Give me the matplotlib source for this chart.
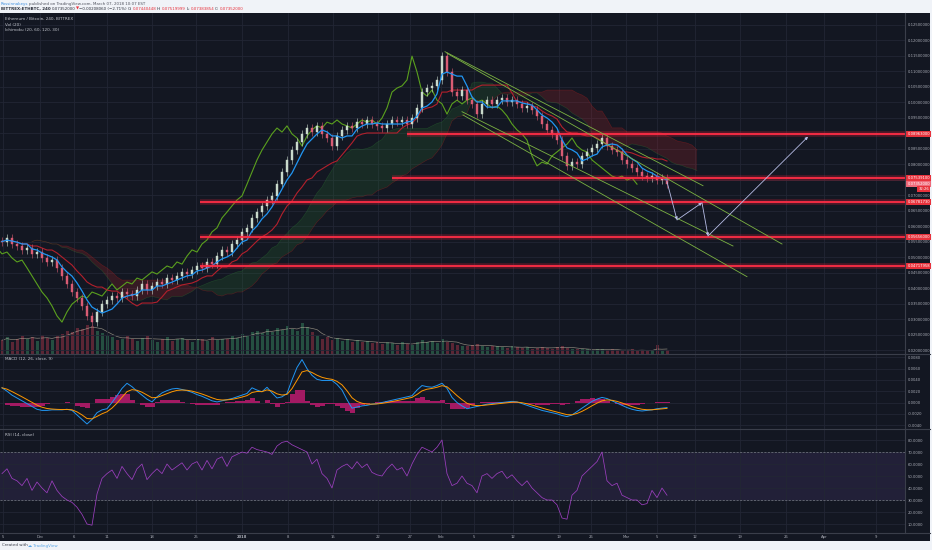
import numpy as np
import pandas as pd
import matplotlib
matplotlib.use("Agg")
import matplotlib.pyplot as plt
from matplotlib.patches import Rectangle
from matplotlib.lines import Line2D
from matplotlib.transforms import blended_transform_factory

# ---------------- data ----------------
OPEN_FIRST = 0.0552
CLOSE = [
    0.0548, 0.0561, 0.0542, 0.0535, 0.0523, 0.0529, 0.0510, 0.0516, 0.0497, 0.0484,
    0.0490, 0.0465, 0.0439, 0.0413, 0.0387, 0.0368, 0.0342, 0.0310, 0.0290, 0.0323,
    0.0348, 0.0361, 0.0374, 0.0368, 0.0387, 0.0381, 0.0374, 0.0394, 0.0413, 0.0394,
    0.0406, 0.0419, 0.0413, 0.0432, 0.0426, 0.0439, 0.0452, 0.0445, 0.0458, 0.0471,
    0.0465, 0.0484, 0.0477, 0.0503, 0.0523, 0.0516, 0.0542, 0.0555, 0.0581, 0.0594,
    0.0626, 0.0645, 0.0665, 0.0684, 0.0697, 0.0735, 0.0774, 0.0813, 0.0845, 0.0871,
    0.0897, 0.0916, 0.0903, 0.0923, 0.0897, 0.0884, 0.0858, 0.0890, 0.0910, 0.0923,
    0.0916, 0.0935, 0.0929, 0.0942, 0.0929, 0.0923, 0.0916, 0.0929, 0.0942, 0.0935,
    0.0942, 0.0929, 0.0948, 0.0981, 0.1032, 0.1045, 0.1052, 0.1071, 0.1148, 0.1097,
    0.1032, 0.1019, 0.1039, 0.1006, 0.0994, 0.0961, 0.0994, 0.1006, 0.0994, 0.1006,
    0.1013, 0.1000, 0.1006, 0.0994, 0.0981, 0.0987, 0.0974, 0.0955, 0.0929, 0.0910,
    0.0897, 0.0877, 0.0826, 0.0794, 0.0806, 0.0800, 0.0826, 0.0839, 0.0852, 0.0864,
    0.0884, 0.0858, 0.0845, 0.0839, 0.0813, 0.0800, 0.0787, 0.0774, 0.0761, 0.0755,
    0.0761, 0.0748, 0.0755, 0.0735]

VOLUME = [
    18, 22, 16, 20, 24, 19, 22, 17, 25, 21, 18, 23,
    26, 30, 28, 34, 32, 38, 36, 30, 27, 24,
    22, 18, 20, 24, 19, 17, 21, 23, 18, 16, 20, 22, 17, 19, 21, 18, 16, 20, 19, 17,
    22, 18, 20, 19, 23, 21,
    26, 24, 28, 30, 27, 32, 29, 34, 31, 36, 33, 30, 40, 35, 28,
    24, 20, 22, 18, 21, 17, 19, 16, 18, 15, 17, 14, 16, 13, 15, 14, 12, 15, 13, 12,
    16, 18, 15, 17, 14, 20,
    16, 14, 12, 11, 10, 12, 13, 10, 9, 11, 10, 9, 8, 10, 9, 8, 9, 7, 8, 9, 8, 7,
    9, 10, 8, 7, 6, 7, 6, 5, 6, 7, 5, 6, 5, 4, 5, 6, 4, 5, 4, 5, 12, 4, 5]

MACD = [
    0.0026, 0.0020, 0.0013, 0.0008, 0.0003, -0.0002, -0.0007, -0.0012, -0.0014, -0.0014,
    -0.0013, -0.0013, -0.0013, -0.0012, -0.0014, -0.0022, -0.0030, -0.0038, -0.0030, -0.0018,
    -0.0013, -0.0011, 0.0000, 0.0012, 0.0025, 0.0034, 0.0028, 0.0020, 0.0013, 0.0006,
    0.0001, 0.0010, 0.0017, 0.0021, 0.0024, 0.0025, 0.0023, 0.0021, 0.0018, 0.0014,
    0.0011, 0.0007, 0.0003, 0.0001, 0.0003, 0.0005, 0.0007, 0.0010, 0.0013, 0.0016,
    0.0026, 0.0022, 0.0019, 0.0027, 0.0017, 0.0008, 0.0010, 0.0016, 0.0040, 0.0062,
    0.0076, 0.0060, 0.0048, 0.0041, 0.0039, 0.0039, 0.0039, 0.0032, 0.0022, 0.0005,
    -0.0010, -0.0008, -0.0006, -0.0005, -0.0003, -0.0002, 0.0000, 0.0002, 0.0004, 0.0006,
    0.0008, 0.0010, 0.0012, 0.0022, 0.0030, 0.0028, 0.0027, 0.0030, 0.0034, 0.0025,
    0.0009, 0.0000, -0.0006, -0.0011, -0.0009, -0.0007, -0.0005, -0.0003, -0.0002, -0.0001,
    0.0000, 0.0001, 0.0002, 0.0001, -0.0002, -0.0005, -0.0008, -0.0011, -0.0014, -0.0016,
    -0.0018, -0.0020, -0.0023, -0.0025, -0.0022, -0.0016, -0.0010, -0.0004, 0.0002, 0.0006,
    0.0009, 0.0007, 0.0003, -0.0001, -0.0005, -0.0009, -0.0012, -0.0014, -0.0015, -0.0014,
    -0.0013, -0.0011, -0.0010, -0.0009]

RSI = [
    52, 56, 48, 46, 42, 48, 38, 45, 40, 36,
    46, 38, 33, 30, 28, 24, 18, 10, 9, 35,
    48, 52, 55, 48, 58, 52, 47, 56, 60, 47,
    52, 56, 52, 60, 55, 58, 61, 55, 60, 62,
    55, 63, 56, 64, 66, 58, 66, 68, 70, 69,
    74, 72, 71, 70, 68, 75, 78, 79, 76, 74,
    72, 70, 60, 64, 52, 48, 40, 55, 58, 60,
    56, 62, 57, 60, 53, 51, 50, 56, 60, 55,
    57, 50, 60, 68, 74, 72, 70, 74, 80, 52,
    42, 44, 50, 44, 42, 36, 50, 52, 48, 52,
    54, 48, 51, 46, 42, 46, 40, 36, 32, 30,
    30, 26, 15, 14, 34, 38, 50, 54, 58, 62,
    70, 46, 42, 44, 34, 32, 30, 30, 26, 27,
    38, 32, 40, 34]

# horizontal support / resistance levels drawn by the author
LEVELS = [0.08963, 0.07539, 0.06782, 0.05656, 0.04718]
LEVEL_START = [407, 392, 200, 200, 200]
LEVEL_LABELS = ["0.08963000", "0.07539100", "0.06781730", "0.05656000", "0.04717958"]
LAST_PRICE = 0.07352
LAST_LABEL = "0.07352000"
COUNTDOWN = "32:26"

# channel trend lines (x, price) pairs
CHANNELS = [((445, 0.11623), (703, 0.07300)),
            ((447, 0.11571), (782, 0.05419)),
            ((462, 0.09687), (733, 0.05355)),
            ((463, 0.09581), (747, 0.04365))]
# projected path arrows
PATH_X = [667, 677, 702, 708, 808]
PATH_P = [0.07429, 0.06194, 0.06752, 0.05677, 0.08881]

TICK_POS = [3, 40, 74, 107, 152, 196, 242, 288, 333, 378, 410, 441, 474, 513,
            559, 591, 626, 657, 695, 740, 786, 824, 876]
TICK_LAB = ['5', 'Dec', '6', '11', '18', '25', '2018', '8', '15', '22', '27', 'Feb',
            '5', '12', '19', '26', 'Mar', '5', '12', '19', '26', 'Apr', '9']

PRICE_TICKS = [round(0.02 + 0.005 * k, 3) for k in range(22)]
MACD_TICKS = [-0.004, -0.002, 0.0, 0.002, 0.004, 0.006, 0.008]
RSI_TICKS = [10, 20, 30, 40, 50, 60, 70, 80]

# ---------------- style ----------------
W, H = 932, 550
BG = '#131722'
GRID = '#222634'
TXT = '#a9acb6'
SEP = '#3a3e4a'
UP = '#c9d9cb'
DOWN = '#d95c74'
X0, STEP = 2, 5
WICK = 0.0012
FS = 2.7

fig = plt.figure(figsize=(W / 100, H / 100), dpi=100)
fig.patch.set_facecolor('#f0f3f8')


def fx(px):
    return px / W


def fy(py):
    return 1 - py / H


fig.add_artist(Rectangle((0, fy(541)), fx(930), (541 - 13) / H, transform=fig.transFigure,
                         facecolor=BG, edgecolor='none', zorder=-5))

ax = fig.add_axes([0, fy(354), fx(905), 341 / H])
axm = fig.add_axes([0, fy(429), fx(905), 75 / H], sharex=ax)
axr = fig.add_axes([0, fy(533), fx(905), 104 / H], sharex=ax)
axv = ax.twinx()
ax.set_zorder(axv.get_zorder() + 1)
ax.patch.set_visible(False)
axv.set_facecolor(BG)

for a in (ax, axm, axr, axv):
    for s in a.spines.values():
        s.set_visible(False)
for a in (axm, axr):
    a.set_facecolor(BG)

close = np.array(CLOSE)
n = len(close)
x = X0 + STEP * np.arange(n)
opn = np.r_[OPEN_FIRST, close[:-1]]
up = close >= opn
cols = np.where(up, UP, DOWN)
blo = np.minimum(opn, close)
bhi = np.maximum(opn, close)
high = bhi + WICK
low = blo - WICK

# volume (under price)
vol = np.array(VOLUME, dtype=float)
vcols = np.where(up, '#2a5e4a', '#6e2a3b')
axv.bar(x, vol, width=3.0, color=vcols, lw=0, alpha=0.8)
axv.plot(x, pd.Series(vol).rolling(4, min_periods=1).mean(), color='#c9bfa8', lw=0.45, alpha=0.7)
axv.set_ylim(0, 341 * 1.3)
axv.set_yticks([])

# ichimoku
hs, ls = pd.Series(high), pd.Series(low)
tenkan = (hs.rolling(4, min_periods=1).max() + ls.rolling(4, min_periods=1).min()) / 2
kijun = (hs.rolling(13, min_periods=1).max() + ls.rolling(13, min_periods=1).min()) / 2
spanA = ((tenkan + kijun) / 2).values
spanB = ((hs.rolling(26, min_periods=1).max() + ls.rolling(26, min_periods=1).min()) / 2).values
SHIFT = 6
xl = x + SHIFT * STEP
ax.fill_between(xl, spanA, spanB, where=spanA >= spanB, interpolate=True,
                color='#2e7d32', alpha=0.2, lw=0, zorder=2)
ax.fill_between(xl, spanA, spanB, where=spanA < spanB, interpolate=True,
                color='#c62828', alpha=0.2, lw=0, zorder=2)
ax.plot(xl, spanA, color='#2e7d32', lw=0.4, alpha=0.4, zorder=2)
ax.plot(xl, spanB, color='#b71c1c', lw=0.4, alpha=0.4, zorder=2)
ax.plot(x - SHIFT * STEP, close, color='#5aa01e', lw=0.8, zorder=4)
ax.plot(x, kijun, color='#b3202c', lw=0.8, zorder=4)

# candles
ax.vlines(x, low, high, colors=cols, lw=0.4, zorder=5)
ax.bar(x, bhi - blo, bottom=blo, width=2.6, color=cols, edgecolor=cols, lw=0.3, zorder=6)
ax.plot(x, tenkan, color='#2196f3', lw=0.9, zorder=7)

# horizontal levels with glow
for lv, xs in zip(LEVELS, LEVEL_START):
    ax.hlines(lv, xs, 905, color='#ff1f3a', lw=4, alpha=0.25, zorder=8)
    ax.hlines(lv, xs, 905, color='#ff2d45', lw=1.3, zorder=8)

# channels
for (p0, p1) in CHANNELS:
    ax.plot([p0[0], p1[0]], [p0[1], p1[1]], color='#7cb342', lw=0.6, zorder=9)

# projected path
for i in range(len(PATH_X) - 1):
    ax.annotate('', xy=(PATH_X[i + 1], PATH_P[i + 1]), xytext=(PATH_X[i], PATH_P[i]),
                arrowprops=dict(arrowstyle='-|>', color='#b7bde6', lw=0.6,
                                mutation_scale=4, shrinkA=0, shrinkB=0), zorder=10)

ax.set_xlim(0, 905)
ax.set_ylim(0.01871, 0.12871)
ax.yaxis.tick_right()
ax.set_yticks(PRICE_TICKS)
ax.set_yticklabels(['%.8f' % t for t in PRICE_TICKS])
ax.set_xticks(TICK_POS)
ax.grid(True, color=GRID, lw=0.6, zorder=0)
ax.tick_params(axis='both', length=0, labelsize=FS, colors=TXT, pad=2)
ax.tick_params(axis='x', labelbottom=False)

trans = blended_transform_factory(ax.transAxes, ax.transData)
for lv, lab in zip(LEVELS, LEVEL_LABELS):
    ax.text(1.0025, lv, lab, transform=trans, fontsize=FS, color='white', va='center', ha='left',
            bbox=dict(boxstyle='square,pad=0.25', fc='#e8323c', ec='none'), zorder=20)
ax.text(1.0025, LAST_PRICE + 0.0001, LAST_LABEL, transform=trans, fontsize=FS, color='white',
        va='center', ha='left', bbox=dict(boxstyle='square,pad=0.25', fc='#ef6b7b', ec='none'), zorder=21)
ax.text(929 / 905, LAST_PRICE - 0.00145, COUNTDOWN, transform=trans, fontsize=FS, color='white',
        va='center', ha='right', bbox=dict(boxstyle='square,pad=0.25', fc='#e8323c', ec='none'), zorder=21)

# MACD
macd = pd.Series(MACD)
sig = macd.ewm(span=4, adjust=False).mean()
hist = macd - sig
axm.bar(x, hist.values, width=STEP, color='#a31a63', lw=0, zorder=2)
axm.plot(x, macd.values, color='#2196f3', lw=0.7, zorder=3)
axm.plot(x, sig.values, color='#ff9800', lw=0.7, zorder=3)
axm.set_ylim(-0.00469, 0.008584)
axm.yaxis.tick_right()
axm.set_yticks(MACD_TICKS)
axm.set_yticklabels(['%.4f' % t for t in MACD_TICKS])
axm.grid(True, color=GRID, lw=0.6, zorder=0)
axm.tick_params(axis='both', length=0, labelsize=FS, colors=TXT, pad=2)
axm.tick_params(axis='x', labelbottom=False)

# RSI
axr.axhspan(30, 70, color='#7e57c2', alpha=0.14, lw=0, zorder=1)
axr.axhline(70, color='#787b86', lw=0.5, ls=(0, (3, 2)), zorder=2)
axr.axhline(30, color='#787b86', lw=0.5, ls=(0, (3, 2)), zorder=2)
axr.plot(x, RSI, color='#9c3fbf', lw=0.55, zorder=3)
axr.set_ylim(2.5, 89.17)
axr.yaxis.tick_right()
axr.set_yticks(RSI_TICKS)
axr.set_yticklabels(['%.4f' % t for t in RSI_TICKS])
axr.grid(True, color=GRID, lw=0.6, zorder=0)
axr.set_xticks(TICK_POS)
axr.set_xticklabels(TICK_LAB)
axr.tick_params(axis='both', length=0, labelsize=FS, colors=TXT, pad=2)
axr.tick_params(axis='x', pad=1.5)
for t in axr.get_xticklabels():
    if t.get_text() == '2018':
        t.set_fontweight('bold')

# separators
for yy in (354, 429, 533):
    fig.add_artist(Line2D([0, fx(930)], [fy(yy)] * 2, transform=fig.transFigure, color=SEP, lw=0.8))
fig.add_artist(Line2D([fx(905)] * 2, [fy(13), fy(533)], transform=fig.transFigure, color=SEP, lw=0.8))

# texts
fig.text(fx(5), fy(19), "Ethereum / Bitcoin, 240, BITTREX", fontsize=3, color='#c3c6ce', va='center')
fig.text(fx(5), fy(24.5), "Vol (20)", fontsize=3, color='#c3c6ce', va='center')
fig.text(fx(5), fy(30), "Ichimoku (20, 60, 120, 30)", fontsize=3, color='#c3c6ce', va='center')
fig.text(fx(5), fy(359.5), "MACD (12, 26, close, 9)", fontsize=3, color='#c3c6ce', va='center')
fig.text(fx(5), fy(434.5), "RSI (14, close)", fontsize=3, color='#c3c6ce', va='center')

renderer = fig.canvas.get_renderer()


def seq_text(x_px, y_px, parts, size):
    xp = x_px
    for s, color, weight in parts:
        t = fig.text(fx(xp), fy(y_px), s, color=color, fontsize=size, fontweight=weight,
                     va='center', ha='left')
        bb = t.get_window_extent(renderer=renderer)
        xp += bb.width + 0.6


DARK = '#2a2e39'
RED = '#e8323c'
seq_text(1, 3.5, [("Rossinnakeys", '#3d8fe0', 'normal'),
                  ("published on TradingView.com, March 07, 2018 10:07 EST", '#50535e', 'normal')], 2.9)
seq_text(1, 9, [("BITTREX:ETHBTC, 240", DARK, 'bold'), ("0.07352000", DARK, 'normal'),
                ("\u25bc", RED, 'normal'), ("\u22120.00208060 (\u22122.71%)", DARK, 'normal'),
                ("O:", DARK, 'normal'), ("0.07440448", RED, 'normal'),
                ("H:", DARK, 'normal'), ("0.07519999", RED, 'normal'),
                ("L:", DARK, 'normal'), ("0.07383854", RED, 'normal'),
                ("C:", DARK, 'normal'), ("0.07352000", RED, 'normal')], 2.9)
seq_text(2, 545.5, [("Created with", '#3a3e4a', 'normal'), ("\u2601 TradingView", '#5aa6e6', 'normal')], 2.9)

fig.savefig("out.png", dpi=100, facecolor=fig.get_facecolor())
